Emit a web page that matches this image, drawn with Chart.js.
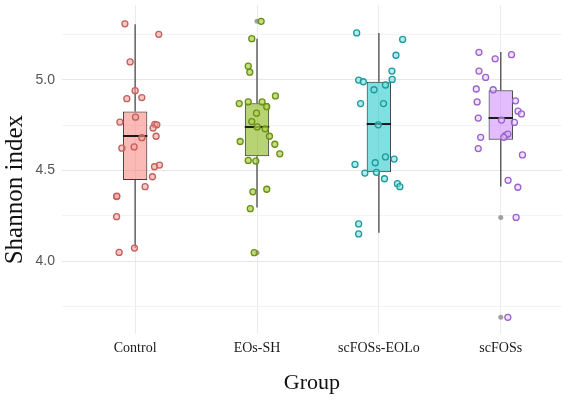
<!DOCTYPE html>
<html>
<head>
<meta charset="utf-8">
<script src="https://cdn.jsdelivr.net/npm/chart.js@4"></script>
<style>
  body { margin: 0; background: #fff; }
  canvas { display: block; }
</style>
</head>
<body>
<canvas id="shannonChart" width="567" height="403"></canvas>
<script>
  // groups + box stats
  const groups = ['Control', 'EOs-SH', 'scFOSs-EOLo', 'scFOSs'];
  const whiskerLow  = [4.073, 4.297, 4.157, 4.412];
  const q1          = [4.448, 4.579, 4.490, 4.670];
  const median      = [4.690, 4.740, 4.756, 4.789];
  const q3          = [4.825, 4.870, 4.989, 4.942];
  const whiskerHigh = [5.306, 5.226, 5.258, 5.153];

  // outliers drawn by the boxplot (grey dots)
  const outlierX = [2, 2, 4, 4];
  const outlierY = [5.322, 4.048, 4.242, 3.692];

  // jittered samples
  const controlX = [0.916, 1.194, 0.959, 1.000, 0.932, 1.055, 0.875, 1.003, 1.161, 1.178, 1.147, 1.172,
                    1.055, 0.992, 0.891, 1.159, 1.200, 1.142, 1.082, 0.848, 0.850, 0.848, 0.995, 0.869];
  const controlY = [5.308, 5.250, 5.098, 4.940, 4.896, 4.902, 4.767, 4.794, 4.754, 4.752, 4.734, 4.689,
                    4.681, 4.630, 4.623, 4.521, 4.530, 4.466, 4.411, 4.357, 4.359, 4.246, 4.073, 4.049];

  const eosX = [2.034, 1.957, 1.928, 1.941, 2.151, 1.854, 1.928, 2.042, 2.080, 1.996, 1.957, 2.002,
                2.067, 2.102, 1.862, 2.146, 2.187, 1.928, 1.990, 1.966, 2.080, 1.945, 1.977];
  const eosY = [5.322, 5.226, 5.075, 5.042, 4.911, 4.869, 4.878, 4.878, 4.852, 4.816, 4.770, 4.740,
                4.730, 4.689, 4.660, 4.645, 4.592, 4.556, 4.552, 4.383, 4.397, 4.290, 4.048];

  const eoloX = [2.818, 3.195, 3.140, 3.107, 3.109, 2.834, 2.872, 2.960, 3.054, 2.850, 3.038, 2.995,
                 2.804, 2.970, 3.054, 3.125, 2.885, 2.980, 3.046, 3.152, 3.172, 2.834, 2.834];
  const eoloY = [5.258, 5.222, 5.135, 5.048, 5.002, 4.998, 4.989, 4.945, 4.971, 4.869, 4.869, 4.752,
                 4.534, 4.543, 4.575, 4.563, 4.486, 4.490, 4.455, 4.428, 4.411, 4.206, 4.151];

  const fosX = [3.821, 3.954, 4.088, 3.821, 3.876, 3.799, 3.938, 3.806, 4.121, 4.142, 4.170, 3.815,
                4.006, 4.112, 3.835, 4.039, 4.058, 4.025, 3.815, 4.178, 4.060, 4.140, 4.126, 4.058];
  const fosY = [5.151, 5.115, 5.138, 5.048, 5.013, 4.949, 4.945, 4.878, 4.884, 4.827, 4.812, 4.789,
                4.778, 4.765, 4.683, 4.694, 4.701, 4.683, 4.621, 4.586, 4.446, 4.408, 4.242, 3.692];

  const yTicks = [3.75, 4.0, 4.25, 4.5, 4.75, 5.0, 5.25];

  const boxFill   = ['rgba(248,118,109,0.5)', 'rgba(124,174,0,0.55)', 'rgba(0,191,196,0.5)', 'rgba(199,124,255,0.5)'];
  const dotEdge   = ['#c0615d', '#6b8f12', '#1f9a9c', '#9a62cf'];
  const dotFill   = ['rgba(248,160,155,0.6)', 'rgba(175,210,90,0.75)', 'rgba(120,225,225,0.6)', 'rgba(230,205,252,0.6)'];
  const BOX_HALF = 0.1;

  function pts(xs, ys) {
    return xs.map((x, i) => ({ x: x, y: ys[i] }));
  }

  const datasets = [];

  // whiskers: hinge -> end, both sides
  groups.forEach((g, i) => {
    const c = i + 1;
    [[whiskerLow[i], q1[i]], [q3[i], whiskerHigh[i]]].forEach(seg => {
      datasets.push({
        type: 'line', order: 6,
        data: [{ x: c, y: seg[0] }, { x: c, y: seg[1] }],
        borderColor: '#555', borderWidth: 1.4, pointRadius: 0
      });
    });
  });

  // boxes as floating bars
  datasets.push({
    type: 'bar', order: 5,
    data: groups.map((g, i) => ({ x: i + 1, y: [q1[i], q3[i]] })),
    backgroundColor: boxFill,
    borderColor: '#3a3a3a', borderWidth: 1, borderSkipped: false,
    barPercentage: 0.2, categoryPercentage: 1
  });

  // medians
  groups.forEach((g, i) => {
    datasets.push({
      type: 'line', order: 4,
      data: [{ x: i + 1 - BOX_HALF, y: median[i] }, { x: i + 1 + BOX_HALF, y: median[i] }],
      borderColor: '#1a1a1a', borderWidth: 2, pointRadius: 0
    });
  });

  // outliers
  datasets.push({
    type: 'scatter', order: 3,
    data: pts(outlierX, outlierY),
    backgroundColor: '#a0a0a0', borderWidth: 0, pointRadius: 2.5
  });

  // jitter points
  [[controlX, controlY], [eosX, eosY], [eoloX, eoloY], [fosX, fosY]].forEach((p, i) => {
    datasets.push({
      type: 'scatter', order: 1,
      data: pts(p[0], p[1]),
      backgroundColor: dotFill[i], borderColor: dotEdge[i],
      borderWidth: 1.3, pointRadius: 3
    });
  });

  // y title sits a bit below the panel centre in the original
  const yTitle = {
    id: 'yTitle',
    afterDraw(chart) {
      const ctx = chart.ctx;
      const a = chart.chartArea;
      ctx.save();
      ctx.translate(15, (a.top + a.bottom) / 2 + 20);
      ctx.rotate(-Math.PI / 2);
      ctx.font = '25px "Liberation Serif"';
      ctx.fillStyle = '#111';
      ctx.textAlign = 'center';
      ctx.textBaseline = 'middle';
      ctx.fillText('Shannon index', 0, 0);
      ctx.restore();
    }
  };

  new Chart(document.getElementById('shannonChart'), {
    type: 'bar',
    data: { datasets: datasets },
    plugins: [yTitle],
    options: {
      responsive: false,
      animation: false,
      layout: { padding: { top: 3, right: 4, left: 0, bottom: 0 } },
      plugins: { legend: { display: false }, tooltip: { enabled: false } },
      scales: {
        x: {
          type: 'linear', min: 0.4, max: 4.5, offset: false,
          afterBuildTicks: s => { s.ticks = groups.map((g, i) => ({ value: i + 1 })); },
          afterFit: s => { s.height = 69; s.paddingLeft = 0; s.paddingRight = 0; },
          ticks: {
            callback: v => groups[v - 1],
            font: { family: 'Liberation Serif', size: 14 },
            color: '#1a1a1a', padding: 6, maxRotation: 0
          },
          grid: { color: '#ebebeb', drawTicks: false, offset: false },
          border: { display: false },
          title: {
            display: true, text: 'Group',
            font: { family: 'Liberation Serif', size: 22 },
            color: '#111', padding: { top: 0, bottom: 7 }
          }
        },
        y: {
          type: 'linear', min: 3.6, max: 5.41,
          afterBuildTicks: s => { s.ticks = yTicks.map(v => ({ value: v })); },
          afterFit: s => { s.width = 62; s.paddingTop = 0; s.paddingBottom = 0; },
          ticks: {
            callback: v => (v * 2) % 1 === 0 ? v.toFixed(1) : '',
            font: { family: 'Liberation Sans', size: 14 },
            color: '#555', padding: 7
          },
          grid: {
            color: c => (c.tick && (c.tick.value * 2) % 1 === 0) ? '#e6e6e6' : '#f3f3f3',
            drawTicks: false
          },
          border: { display: false }
        }
      }
    }
  });
</script>
</body>
</html>
